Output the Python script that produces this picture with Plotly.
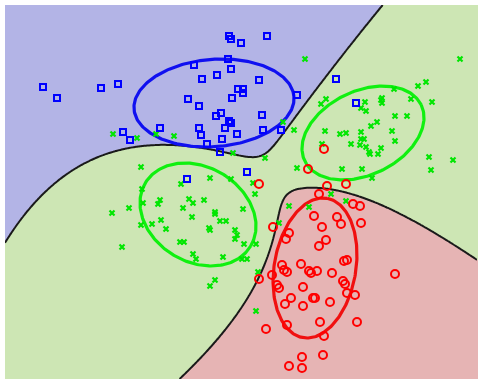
import numpy as np
import plotly.graph_objects as go

# ---------------- samples (x, y in plot units, y grows downward) ----------------
blue_x = [43, 57, 101, 118, 123, 130, 160, 188, 194, 199, 199, 201, 202, 207, 216, 217,
          221, 222, 220, 225, 228, 229, 231, 231, 229, 231, 232, 237, 238, 241, 243, 243,
          259, 262, 263, 267, 281, 297, 336, 356, 187, 247]
blue_y = [87, 98, 88, 84, 132, 140, 128, 99, 65, 106, 128, 135, 79, 144, 116, 75,
          113, 139, 152, 128, 59, 36, 39, 69, 121, 123, 98, 134, 89, 43, 89, 93,
          80, 115, 130, 36, 130, 95, 79, 103, 179, 172]

green_x = [305, 326, 321, 283, 294,
           460, 426, 418, 394, 382, 381, 382, 411, 432, 365, 361, 366, 395, 407, 377, 371,
           361, 392, 395, 361, 364, 360, 366, 369, 370, 378, 381, 362, 372, 429, 453, 431,
           325, 340, 346, 351, 322, 265, 297, 342, 253, 255, 331, 243, 289, 309, 346, 279,
           244, 256,
           137, 156, 174, 233, 141, 181, 210, 231, 142, 129, 143, 158, 160, 189, 193, 204,
           183, 215, 215, 192, 161, 220, 226, 141, 152, 166, 209, 210, 235, 237, 235, 180,
           184, 193, 122, 113, 112, 196, 223, 215, 210, 247, 242, 258, 256]
green_y = [59, 99, 104, 122, 130,
           59, 82, 86, 89, 98, 100, 103, 99, 102, 102, 108, 111, 116, 116, 122, 126,
           132, 131, 141, 139, 139, 145, 147, 152, 154, 154, 148, 169, 178, 157, 160, 170,
           131, 134, 133, 144, 144, 158, 168, 169, 183, 194, 194, 209, 206, 207, 201, 223,
           244, 244,
           138, 134, 136, 153, 167, 184, 178, 179, 189, 208, 203, 204, 200, 199, 203, 200,
           208, 212, 214, 217, 220, 221, 221, 225, 224, 229, 228, 230, 230, 235, 239, 242,
           242, 254, 247, 134, 213, 259, 257, 280, 286, 259, 259, 272, 311]

red_x = [324, 308, 259, 327, 346, 319, 353, 360, 314, 337, 341, 361, 322, 273, 289, 286,
         326, 319, 282, 284, 287, 301, 309, 311, 317, 332, 344, 347, 272, 259, 277, 279,
         303, 343, 345, 347, 355, 291, 285, 313, 315, 330, 303, 266, 287, 320, 357, 324,
         302, 323, 289, 302, 395]
red_y = [149, 169, 184, 186, 184, 194, 204, 206, 216, 217, 224, 223, 227, 227, 233, 239,
         240, 246, 265, 270, 272, 264, 271, 273, 271, 273, 261, 260, 275, 279, 285, 288,
         287, 281, 284, 293, 295, 298, 304, 298, 298, 302, 306, 329, 325, 322, 322, 336,
         357, 355, 366, 368, 274]

# ---------------- mixture components used for the decision regions ----------------
comp_class = [0, 1, 1, 2]                 # 0 = blue, 1 = green, 2 = red
comp_cx = [214.0, 363.0, 198.0, 315.0]
comp_cy = [103.0, 133.0, 214.5, 268.0]
comp_a = [80.2, 64.6, 61.4, 70.7]         # ellipse semi-major axis
comp_b = [43.7, 41.9, 47.4, 40.8]         # ellipse semi-minor axis
comp_angle = [-4.5, -25.6, 31.0, -80.2]   # degrees, plot orientation
comp_sharp = [1.0, 1.22, 1.30, 1.25]
comp_bias = [0.0, 0.963, 1.30, 0.80]

class_fill = ["#B3B4E6", "#CDE6B4", "#E6B4B4"]
class_line = ["#1010F0", "#10F010", "#F01010"]

X0, X1, Y0, Y1 = 5, 478, 5, 379


def mahal(px, py, k):
    t = np.deg2rad(comp_angle[k])
    dx, dy = px - comp_cx[k], py - comp_cy[k]
    u = dx * np.cos(t) + dy * np.sin(t)
    v = -dx * np.sin(t) + dy * np.cos(t)
    return (u / comp_a[k]) ** 2 + (v / comp_b[k]) ** 2


def class_scores(px, py):
    out = []
    for c in range(3):
        terms = [-comp_sharp[k] * mahal(px, py, k) + comp_bias[k]
                 for k in range(4) if comp_class[k] == c]
        m = np.maximum.reduce(terms)
        out.append(m + np.log(sum(np.exp(t - m) for t in terms)))
    return np.array(out)


# region map
gx = np.arange(X0 + 0.5, X1, 1.0)
gy = np.arange(Y0 + 0.5, Y1, 1.0)
GX, GY = np.meshgrid(gx, gy)
S = class_scores(GX, GY)
label = np.argmax(S, axis=0).astype(float)

fig = go.Figure()
fig.add_trace(go.Heatmap(
    x=gx, y=gy, z=label, zmin=0, zmax=2, showscale=False, hoverinfo="skip",
    colorscale=[[0, class_fill[0]], [0.333, class_fill[0]], [0.333, class_fill[1]],
                [0.667, class_fill[1]], [0.667, class_fill[2]], [1, class_fill[2]]]))

# class boundaries
cx = np.arange(X0, X1 + 1, 2.0)
cy = np.arange(Y0, Y1 + 1, 2.0)
CX, CY = np.meshgrid(cx, cy)
C = class_scores(CX, CY)
lab = np.argmax(C, axis=0)
d_bg = np.where(lab == 2, np.nan, C[0] - C[1])
d_rg = np.where(lab == 0, np.nan, C[2] - C[1])
for d in (d_bg, d_rg):
    fig.add_trace(go.Contour(
        x=cx, y=cy, z=d, showscale=False, hoverinfo="skip",
        contours=dict(start=0, end=0, size=1, coloring="none"),
        line=dict(color="#1a1a1a", width=2, smoothing=1.0)))

# component ellipses
tt = np.linspace(0, 2 * np.pi, 241)
for k in range(4):
    t = np.deg2rad(comp_angle[k])
    u = comp_a[k] * np.cos(tt)
    v = comp_b[k] * np.sin(tt)
    ex = comp_cx[k] + u * np.cos(t) - v * np.sin(t)
    ey = comp_cy[k] + u * np.sin(t) + v * np.cos(t)
    fig.add_trace(go.Scatter(x=ex, y=ey, mode="lines", hoverinfo="skip",
                             line=dict(color=class_line[comp_class[k]], width=3.2)))

# samples
fig.add_trace(go.Scatter(x=green_x, y=green_y, mode="markers",
                         marker=dict(symbol="x-thin-open", size=5, color="#00E600",
                                     line=dict(color="#00E600", width=2.2))))
fig.add_trace(go.Scatter(x=blue_x, y=blue_y, mode="markers",
                         marker=dict(symbol="square-open", size=6, color="#0000FF",
                                     line=dict(width=2))))
fig.add_trace(go.Scatter(x=red_x, y=red_y, mode="markers",
                         marker=dict(symbol="circle-open", size=8, color="#FF0000",
                                     line=dict(width=2))))

fig.update_layout(
    width=478, height=380, margin=dict(l=5, r=0, t=5, b=1),
    paper_bgcolor="white", plot_bgcolor="white", showlegend=False,
    xaxis=dict(range=[X0, X1], visible=False, fixedrange=True),
    yaxis=dict(range=[Y1, Y0], visible=False, fixedrange=True),
)
fig.write_html("out.html")
